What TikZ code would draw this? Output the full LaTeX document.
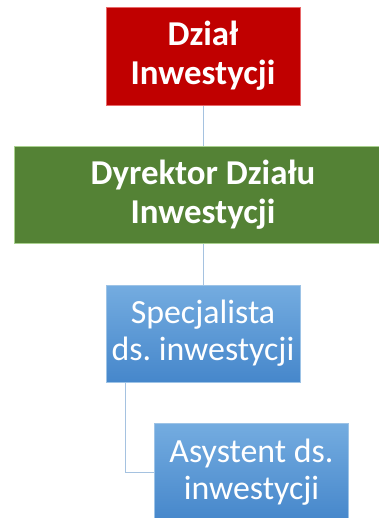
\documentclass[tikz,border=0pt]{standalone}
\usepackage{fontspec}
\setmainfont{Carlito}
\frenchspacing
\definecolor{dzialred}{HTML}{C00000}
\definecolor{dzialredline}{HTML}{E8696B}
\definecolor{dyrgreen}{HTML}{548235}
\definecolor{dyrgreenline}{HTML}{A9D18E}
\definecolor{spectop}{HTML}{74ACE0}
\definecolor{specbot}{HTML}{4687CB}
\definecolor{specline}{HTML}{9DC3E6}
\definecolor{linkblue}{HTML}{A5C2E0}
\begin{document}
\begin{tikzpicture}[x=1bp,y=-1bp,line width=0.6pt,
	box/.style={rectangle,align=center,text=white,inner sep=2pt,font=\fontsize{34}{37}\selectfont},
	redbox/.style={box,fill=dzialred,draw=dzialredline,minimum width=194bp,minimum height=98bp,font=\bfseries\fontsize{35}{39}\selectfont},
	greenbox/.style={box,fill=dyrgreen,draw=dyrgreenline,minimum width=378bp,minimum height=97bp,font=\bfseries\fontsize{35}{39}\selectfont},
	bluebox/.style={box,top color=spectop,bottom color=specbot,draw=specline,minimum width=194bp,minimum height=97bp},
	link/.style={draw=linkblue,line width=1pt}]
	\useasboundingbox (0,0) rectangle (378,518);
	% connectors first, boxes on top
	\coordinate (dzialc) at (203,56);
	\coordinate (dyrc) at (203,195);
	\coordinate (specc) at (203,333.5);
	\coordinate (asystc) at (251.5,472);
	\coordinate (bend) at (125,472);
	\draw[link] (dzialc)--(dyrc);
	\draw[link] (dyrc)--(specc);
	\draw[link] (125,382)--(bend)--(asystc);
	\node[redbox] (dzial) at (dzialc) {Dział\\Inwestycji};
	\node[greenbox] (dyr) at (dyrc) {Dyrektor Działu\\Inwestycji};
	\node[bluebox] (spec) at (specc) {Specjalista\\ds. inwestycji};
	\node[bluebox] (asyst) at (asystc) {Asystent ds.\\inwestycji};
\end{tikzpicture}
\end{document}
